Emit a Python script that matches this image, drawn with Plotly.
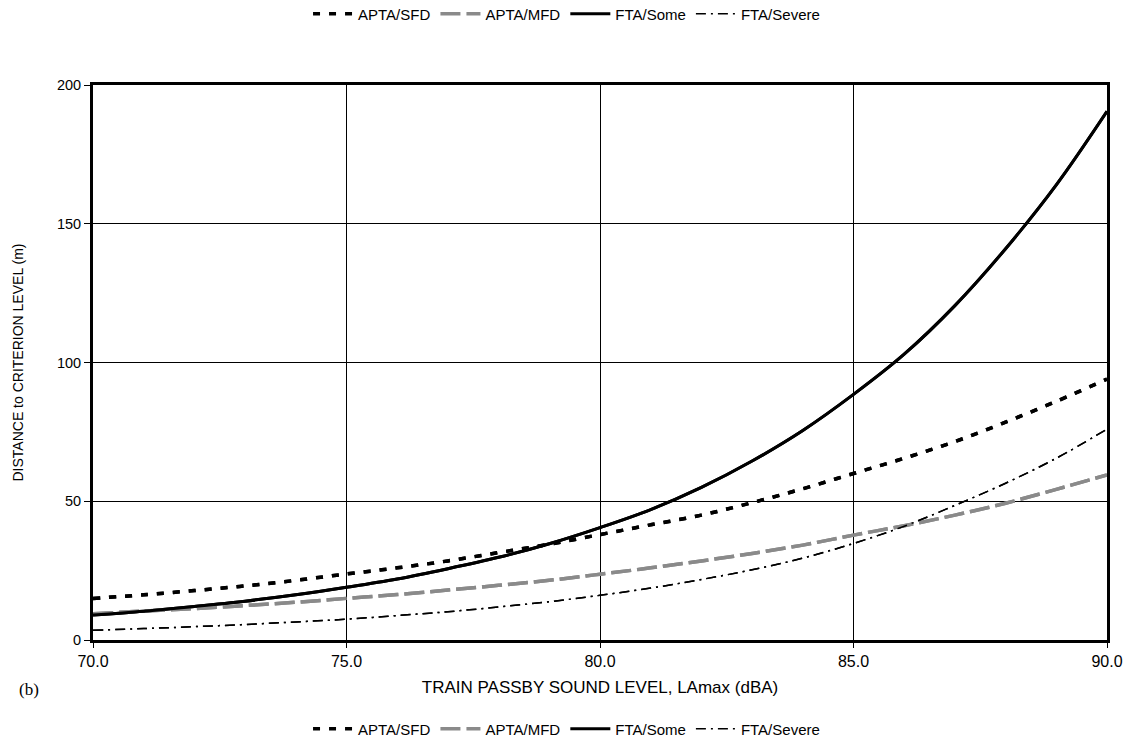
import plotly.graph_objects as go

levels = [70, 71, 72, 73, 74, 75, 76, 77, 78, 79, 80, 81, 82, 83, 84, 85, 86, 87, 88, 89, 90]
apta_sfd = [15, 16.3, 17.8, 19.5, 21.5, 23.8, 26, 28.5, 31.5, 34.5, 38, 41.5, 45, 49.5, 54.5, 60, 65.5, 71.5, 78.5, 86, 94]
apta_mfd = [9.5, 10.4, 11.3, 12.4, 13.6, 15, 16.4, 18, 19.7, 21.5, 23.7, 26, 28.5, 31.2, 34.2, 37.8, 41.2, 45, 49.3, 54.3, 59.5]
fta_some = [9, 10.4, 12.1, 14, 16.3, 19, 22, 25.7, 29.8, 34.7, 40.5, 47, 55, 64.5, 75.5, 88.5, 103, 120.5, 141, 164, 190.5]
fta_severe = [3.5, 4.1, 4.8, 5.6, 6.5, 7.5, 8.8, 10.2, 11.9, 13.8, 16.1, 18.7, 21.8, 25.3, 29.5, 34.8, 41, 48.5, 56.5, 65.5, 76]

series_names = ["APTA/SFD", "APTA/MFD", "FTA/Some", "FTA/Severe"]
x_ticks = [70, 75, 80, 85, 90]
y_ticks = [0, 50, 100, 150, 200]

styles = [
    dict(color="black", width=3.5, dash="7px,9px"),
    dict(color="#8a8a8a", width=3.5, dash="20px,6px"),
    dict(color="black", width=3, dash="solid"),
    dict(color="black", width=1.5, dash="10px,5px,2px,5px"),
]
data = [apta_sfd, apta_mfd, fta_some, fta_severe]

fig = go.Figure()
for leg in ["legend", "legend2"]:
    for name, ys, st in zip(series_names, data, styles):
        fig.add_trace(go.Scatter(x=levels, y=ys, mode="lines", name=name,
                                 line=dict(shape="spline", **st), legend=leg))

FONT = "Liberation Sans, Arial, sans-serif"
legend_common = dict(orientation="h", xref="paper", x=0.467, xanchor="center",
                     yref="container", yanchor="middle",
                     font=dict(family=FONT, size=15, color="black"),
                     bgcolor="rgba(0,0,0,0)", itemwidth=40, tracegroupgap=0)

fig.update_layout(
    width=1135, height=747,
    margin=dict(l=93, r=24, t=85, b=107),
    paper_bgcolor="white", plot_bgcolor="white",
    font=dict(family=FONT, size=14, color="black"),
    legend=dict(y=1 - 14 / 747, **legend_common),
    legend2=dict(y=1 - 729 / 747, **legend_common),
    xaxis=dict(range=[70, 90], tickvals=x_ticks, tickformat=".1f",
               tickfont=dict(size=16),
               showgrid=True, gridcolor="black", gridwidth=1,
               showline=True, linecolor="black", linewidth=3, mirror=True,
               ticks="outside", ticklen=5, tickcolor="black",
               title=dict(text="TRAIN PASSBY SOUND LEVEL, LAmax (dBA)", standoff=12,
                          font=dict(size=17)),
               zeroline=False),
    yaxis=dict(range=[0, 200], tickvals=y_ticks,
               tickfont=dict(size=14.5),
               showgrid=True, gridcolor="black", gridwidth=1,
               showline=True, linecolor="black", linewidth=3, mirror=True,
               ticks="outside", ticklen=6, tickcolor="black",
               title=dict(text="DISTANCE to CRITERION LEVEL (m)", standoff=30,
                          font=dict(size=14)),
               zeroline=False),
    annotations=[dict(text="(b)", xref="paper", yref="paper",
                      x=(29 - 93) / 1018, y=-(689 - 640) / 555,
                      showarrow=False, xanchor="center", yanchor="middle",
                      font=dict(family="Liberation Serif, Times New Roman, serif", size=17))],
)

fig.write_html("out.html")
